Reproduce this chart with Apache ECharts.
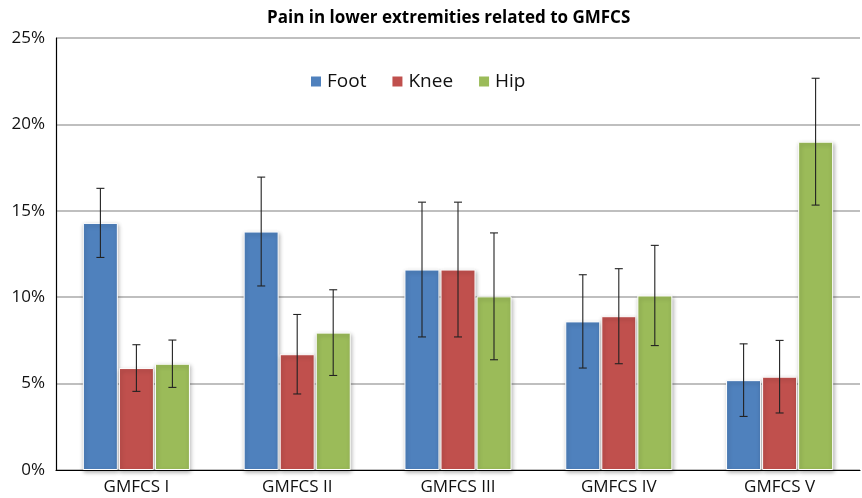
<!DOCTYPE html>
<html>
<head>
<meta charset="utf-8">
<script src="https://cdn.jsdelivr.net/npm/echarts@6/dist/echarts.min.js"></script>
<style>
  html, body { margin: 0; padding: 0; background: #fff; }
  #chart { width: 862px; height: 498px; }
</style>
</head>
<body>
<div id="chart"></div>
<script>
// 类别与数据（百分比）
const categories = ['GMFCS I', 'GMFCS II', 'GMFCS III', 'GMFCS IV', 'GMFCS V']
const foot = [14.3, 13.8, 11.6, 8.6, 5.2]
const knee = [5.9, 6.7, 11.6, 8.9, 5.4]
const hip = [6.15, 7.95, 10.05, 10.1, 19.0]
// 误差线（±）
const footErr = [2.0, 3.15, 3.9, 2.7, 2.1]
const kneeErr = [1.35, 2.3, 3.9, 2.75, 2.1]
const hipErr = [1.37, 2.48, 3.67, 2.9, 3.67]
const yTicks = [0, 5, 10, 15, 20, 25]

const colors = ['#4F81BD', '#C0504D', '#9BBB59']
const barW = 35
const barStep = 36
const font = '"Open Sans", "Noto Sans", sans-serif'

const myChart = echarts.init(document.getElementById('chart'))

// 误差线系列
function errSeries (vals, errs, idx) {
  return {
    type: 'custom',
    z: 10,
    renderItem: function (params, api) {
      const i = api.value(0)
      const v = api.value(1)
      const e = api.value(2)
      const off = (idx - 1) * barStep
      const top = api.coord([i, v + e])
      const bot = api.coord([i, v - e])
      const x = top[0] + off
      const style = { stroke: '#222', lineWidth: 1.1 }
      return {
        type: 'group',
        children: [
          { type: 'line', shape: { x1: x, y1: top[1], x2: x, y2: bot[1] }, style },
          { type: 'line', shape: { x1: x - 4, y1: top[1], x2: x + 4, y2: top[1] }, style },
          { type: 'line', shape: { x1: x - 4, y1: bot[1], x2: x + 4, y2: bot[1] }, style }
        ]
      }
    },
    data: vals.map((v, i) => [i, v, errs[i]]),
    silent: true
  }
}

function barSeries (name, vals) {
  return {
    name,
    type: 'bar',
    barWidth: barW,
    barGap: '3%',
    data: vals,
    itemStyle: {
      borderColor: '#fff',
      borderWidth: 1,
      shadowColor: 'rgba(0,0,0,0.3)',
      shadowBlur: 4,
      shadowOffsetX: 1,
      shadowOffsetY: 2
    }
  }
}

const option = {
  backgroundColor: '#fff',
  color: colors,
  animation: false,
  title: {
    text: 'Pain in lower extremities related to GMFCS',
    left: 262,
    top: 5,
    textStyle: { fontFamily: font, fontSize: 17, fontWeight: 'bold', color: '#000' }
  },
  legend: {
    data: ['Foot', 'Knee', 'Hip'],
    left: 304,
    top: 67,
    itemWidth: 12,
    itemHeight: 12,
    itemGap: 24,
    icon: 'rect',
    textStyle: { fontFamily: font, fontSize: 19, color: '#111' }
  },
  grid: {
    left: 56,
    right: 2,
    top: 38,
    bottom: 28,
    containLabel: false
  },
  xAxis: {
    type: 'category',
    data: categories,
    axisLine: { show: true, lineStyle: { color: '#000', width: 1.2 } },
    axisTick: { show: false },
    axisLabel: { fontFamily: font, fontSize: 17, color: '#111', margin: 9 }
  },
  yAxis: {
    type: 'value',
    min: yTicks[0],
    max: yTicks[yTicks.length - 1],
    interval: 5,
    axisLine: { show: true, lineStyle: { color: '#000', width: 1.2 } },
    axisTick: { show: false },
    axisLabel: { fontFamily: font, fontSize: 17, color: '#111', margin: 11, formatter: '{value}%' },
    splitLine: { show: true, lineStyle: { color: '#aaa', width: 1.5 } }
  },
  series: [
    barSeries('Foot', foot),
    barSeries('Knee', knee),
    barSeries('Hip', hip),
    errSeries(foot, footErr, 0),
    errSeries(knee, kneeErr, 1),
    errSeries(hip, hipErr, 2)
  ]
}

myChart.setOption(option)
window.onresize = function () {
  myChart.resize()
}
</script>
</body>
</html>
